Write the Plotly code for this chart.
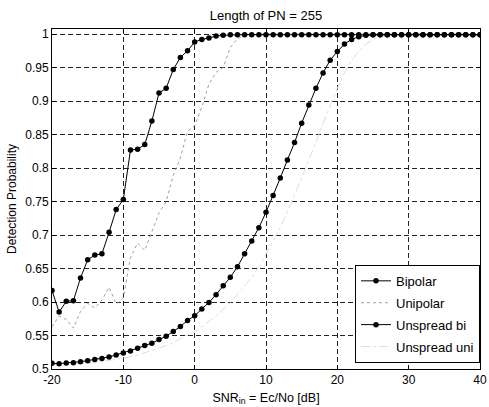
import plotly.graph_objects as go

snr_db = list(range(-20, 41))

bipolar = [0.617, 0.585, 0.601, 0.602, 0.636, 0.663, 0.670, 0.672, 0.704, 0.738,
           0.753, 0.827, 0.828, 0.835, 0.870, 0.912, 0.919, 0.947, 0.965, 0.975,
           0.988, 0.992, 0.994, 0.997, 0.998, 0.999, 0.999, 0.999, 0.999, 0.999,
           0.999, 0.999, 0.999, 0.999, 0.999, 0.999, 0.999, 0.999, 0.999, 0.999,
           0.999, 0.999, 0.999, 0.999, 0.999, 0.999, 0.999, 0.999, 0.999, 0.999,
           0.999, 0.999, 0.999, 0.999, 0.999, 0.999, 0.999, 0.999, 0.999, 0.999,
           0.999]

unipolar = [0.563, 0.579, 0.574, 0.561, 0.586, 0.598, 0.591, 0.603, 0.622, 0.597,
            0.606, 0.666, 0.688, 0.677, 0.705, 0.733, 0.750, 0.789, 0.815, 0.855,
            0.863, 0.891, 0.925, 0.943, 0.950, 0.980, 0.993, 0.998, 0.999, 1.0,
            1.0, 1.0, 1.0, 1.0, 1.0, 1.0, 1.0, 1.0, 1.0, 1.0,
            1.0, 1.0, 1.0, 1.0, 1.0, 1.0, 1.0, 1.0, 1.0, 1.0,
            1.0, 1.0, 1.0, 1.0, 1.0, 1.0, 1.0, 1.0, 1.0, 1.0,
            1.0]

unspread_bi = [0.5085, 0.508, 0.509, 0.5095, 0.511, 0.5125, 0.514, 0.5155, 0.518, 0.521,
               0.524, 0.527, 0.531, 0.535, 0.5385, 0.544, 0.549, 0.556, 0.5634, 0.5724,
               0.5795, 0.5895, 0.5994, 0.611, 0.6244, 0.637, 0.6525, 0.672, 0.691, 0.711,
               0.734, 0.759, 0.785, 0.812, 0.838, 0.867, 0.894, 0.919, 0.942, 0.961,
               0.974, 0.985, 0.992, 0.996, 0.998, 0.999, 0.999, 0.999, 0.999, 0.999,
               0.999, 0.999, 0.999, 0.999, 0.999, 0.999, 0.999, 0.999, 0.999, 0.999,
               0.999]

unspread_uni = [0.506, 0.5065, 0.507, 0.5075, 0.508, 0.509, 0.5095, 0.511, 0.5125, 0.514,
                0.5155, 0.518, 0.521, 0.524, 0.527, 0.531, 0.535, 0.539, 0.545, 0.550,
                0.556, 0.563, 0.571, 0.579, 0.589, 0.599, 0.611, 0.624, 0.637, 0.652,
                0.672, 0.691, 0.711, 0.734, 0.759, 0.785, 0.812, 0.838, 0.867, 0.894,
                0.919, 0.942, 0.961, 0.974, 0.985, 0.992, 0.996, 0.998, 0.999, 0.999,
                0.999, 0.999, 0.999, 0.999, 0.999, 0.999, 0.999, 0.999, 0.999, 0.999,
                0.999]

x_ticks = [-20, -10, 0, 10, 20, 30, 40]
x_ticktext = ["-20", "-10", "0", "10", "20", "30", "40"]
y_ticks = [0.5, 0.55, 0.6, 0.65, 0.7, 0.75, 0.8, 0.85, 0.9, 0.95, 1.0]
y_ticktext = ["0.5", "0.55", "0.6", "0.65", "0.7", "0.75", "0.8", "0.85", "0.9", "0.95", "1"]

FONT = "Liberation Sans, Arial, Helvetica, sans-serif"

fig = go.Figure()
fig.add_trace(go.Scatter(x=snr_db, y=unspread_uni, name="Unspread uni", mode="lines",
                         line=dict(color="#dedede", width=1, dash="dashdot"),
                         legendrank=4, legendgroup="d"))
fig.add_trace(go.Scatter(x=snr_db, y=unipolar, name="Unipolar", mode="lines",
                         line=dict(color="#a0a0a0", width=1, dash="dot"),
                         legendrank=2, legendgroup="b"))
fig.add_trace(go.Scatter(x=snr_db, y=unspread_bi, name="Unspread bi", mode="lines+markers",
                         line=dict(color="black", width=1),
                         marker=dict(color="black", size=5.5, symbol="circle"),
                         legendrank=3, legendgroup="c"))
fig.add_trace(go.Scatter(x=snr_db, y=bipolar, name="Bipolar", mode="lines+markers",
                         line=dict(color="black", width=1),
                         marker=dict(color="black", size=5.5, symbol="circle"),
                         legendrank=1, legendgroup="a"))

axis_common = dict(
    showline=True, linecolor="black", linewidth=1, mirror="ticks",
    ticks="inside", ticklen=4, tickcolor="black",
    showgrid=True, gridcolor="#222222", gridwidth=1, griddash="5px,3px",
    zeroline=False, tickfont=dict(family=FONT, size=12, color="black"),
)

fig.update_xaxes(range=[-20, 40], tickvals=x_ticks, ticktext=x_ticktext,
                 title=dict(text="SNR<sub>in</sub> = Ec/No [dB]", standoff=6,
                            font=dict(family=FONT, size=12.5, color="black")),
                 **axis_common)
fig.update_yaxes(range=[0.5, 1.0075], tickvals=y_ticks, ticktext=y_ticktext,
                 title=dict(text="Detection Probability", standoff=6,
                            font=dict(family=FONT, size=12, color="black")),
                 **axis_common)

fig.update_layout(
    width=489, height=407,
    margin=dict(l=52, r=9, t=29, b=38, autoexpand=False),
    paper_bgcolor="white", plot_bgcolor="white",
    font=dict(family=FONT, size=12, color="black"),
    title=dict(text="Length of PN = 255", x=0.5, xref="paper", xanchor="center",
               y=1 - 15 / 407, yref="container", yanchor="middle",
               font=dict(family=FONT, size=13, color="black")),
    showlegend=True,
    legend=dict(x=1, y=0.018, xanchor="right", yanchor="bottom",
                bgcolor="white", bordercolor="black", borderwidth=1,
                traceorder="grouped", tracegroupgap=2,
                font=dict(family=FONT, size=13, color="black")),
)

fig.write_html("out.html")
